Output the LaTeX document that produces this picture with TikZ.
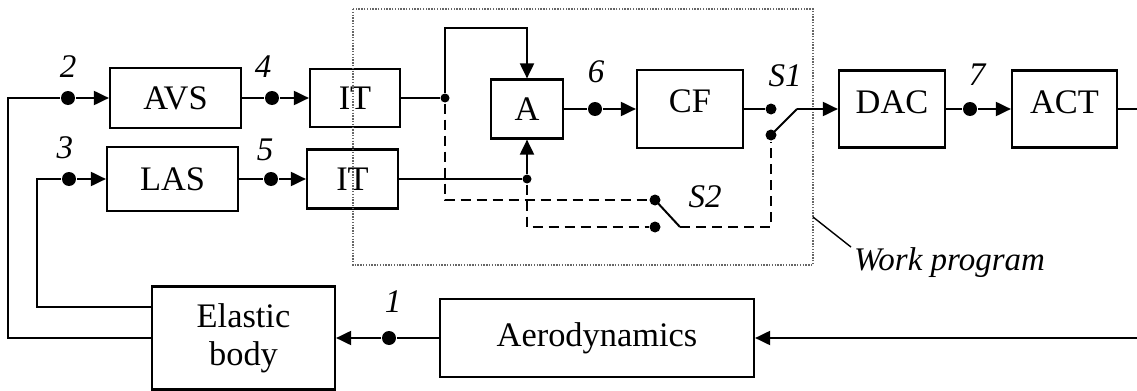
\documentclass[tikz,border=0pt]{standalone}
\usepackage{fontspec}
\setmainfont{Liberation Serif}
\usetikzlibrary{arrows.meta, positioning, calc}

\begin{document}
\begin{tikzpicture}[x=0.5pt, y=-0.5pt, line width=1pt,
    >={Triangle[length=7.5pt, width=7pt]},
    box/.style={draw, rectangle, line width=1.1pt, inner sep=0pt, align=center, font=\fontsize{17.2}{19}\selectfont},
    sig/.style={circle, fill=black, inner sep=0pt, minimum size=7pt},
    jn/.style={circle, fill=black, inner sep=0pt, minimum size=4.5pt},
    ct/.style={circle, fill=black, inner sep=0pt, minimum size=5.5pt},
    num/.style={inner sep=0pt, font=\fontsize{16.5}{19}\selectfont\itshape},
    sw/.style={line width=0.9pt, dash pattern=on 5pt off 3pt}]
    \useasboundingbox (0,0) rectangle (1137,391);

    % blocks
    \node[box, minimum width=65.5pt, minimum height=30pt] (avs) at (175.5,98) {AVS};
    \node[box, minimum width=65.5pt, minimum height=32pt] (las) at (172.5,179) {LAS};
    \node[box, minimum width=45pt, minimum height=29pt] (it1) at (355,98) {IT};
    \node[box, minimum width=45.5pt, minimum height=29.5pt] (it2) at (352.5,179) {IT};
    \node[box, minimum width=36pt, minimum height=29.5pt, text depth=-2pt] (a) at (527,109) {A};
    \node[box, minimum width=53pt, minimum height=39pt, text depth=8pt] (cf) at (690,109) {CF};
    \node[box, minimum width=53pt, minimum height=38.5pt, text depth=7pt] (dac) at (892,109) {DAC};
    \node[box, minimum width=52.5pt, minimum height=38.5pt, text depth=7pt] (act) at (1064.5,109) {ACT};
    \node[box, minimum width=91.5pt, minimum height=51.5pt] (body) at (243.5,338) {Elastic\\body};
    \node[box, minimum width=157pt, minimum height=39pt] (aero) at (597,338) {Aerodynamics};

    % signal points
    \node[sig] (d1) at (389,338) {};
    \node[sig] (d2) at (68,98) {};
    \node[sig] (d3) at (69,179) {};
    \node[sig] (d4) at (272,98) {};
    \node[sig] (d5) at (271,179) {};
    \node[sig] (d6) at (595,109) {};
    \node[sig] (d7) at (970,109) {};
    \node[num] (n1) at (393,302) {1};
    \node[num] (n2) at (68,67) {2};
    \node[num] (n3) at (65,148) {3};
    \node[num] (n4) at (263,67) {4};
    \node[num] (n5) at (265,150) {5};
    \node[num] (n6) at (596,72) {6};
    \node[num] (n7) at (977,75) {7};

    % junctions and switches
    \node[jn] (j1) at (445,98) {};
    \node[jn] (j2) at (527,179) {};
    \node[ct] (s1a) at (771,109) {};
    \node[ct] (s1b) at (771,135) {};
    \node[ct] (s2a) at (655,200) {};
    \node[ct] (s2b) at (655,227) {};
    \coordinate (s1p) at (797,109);
    \coordinate (s2p) at (680,227);
    \node[num] (ns1) at (785,76) {S1};
    \node[num] (ns2) at (705,197) {S2};

    % work program frame
    \draw[line width=0.7pt, gray!80!black, dash pattern=on 0.7pt off 0.7pt] (353,9) rectangle (813,265);
    \coordinate (wpedge) at (813,217);
    \node[num, anchor=west] (wp) at (853,263) {Work program};
    \draw[line width=0.7pt] (wpedge) -- ([xshift=-1pt]wp.north west);

    % forward path
    \draw[->] (d2) -- (avs);
    \draw[->] (d3) -- (las);
    \draw (avs) -- (d4);
    \draw[->] (d4) -- (it1);
    \draw (las) -- (d5);
    \draw[->] (d5) -- (it2);
    \draw (it1) -- (j1);
    \draw (it2) -- (j2);
    \draw[->] (j1) -- ++(0,-70) -| (a.north);
    \draw[->] (j2) -- (a.south);
    \draw (a) -- (d6);
    \draw[->] (d6) -- (cf);
    \draw (cf) -- (s1a);
    \draw (s1b.center) -- (s1p);
    \draw[->] (s1p) -- (dac);
    \draw (dac) -- (d7);
    \draw[->] (d7) -- (act);
    \coordinate (actout) at (1137,109);
    \draw (act) -- (actout);

    % bypass through S2
    \draw[sw] (j1) |- (s2a);
    \draw[sw] (j2) |- (s2b);
    \draw (s2a.center) -- (s2p);
    \draw[sw] (s2p) -| (s1b);

    % feedback
    \coordinate (aeroin) at (1137,338);
    \draw[->] (aeroin) -- (aero);
    \draw (aero) -- (d1);
    \draw[->] (d1) -- (body);
    \draw (body.west) -- ++(-143,0) |- (d2);
    \draw ([yshift=15.5pt]body.west) -- ++(-114,0) |- (d3);
\end{tikzpicture}
\end{document}
